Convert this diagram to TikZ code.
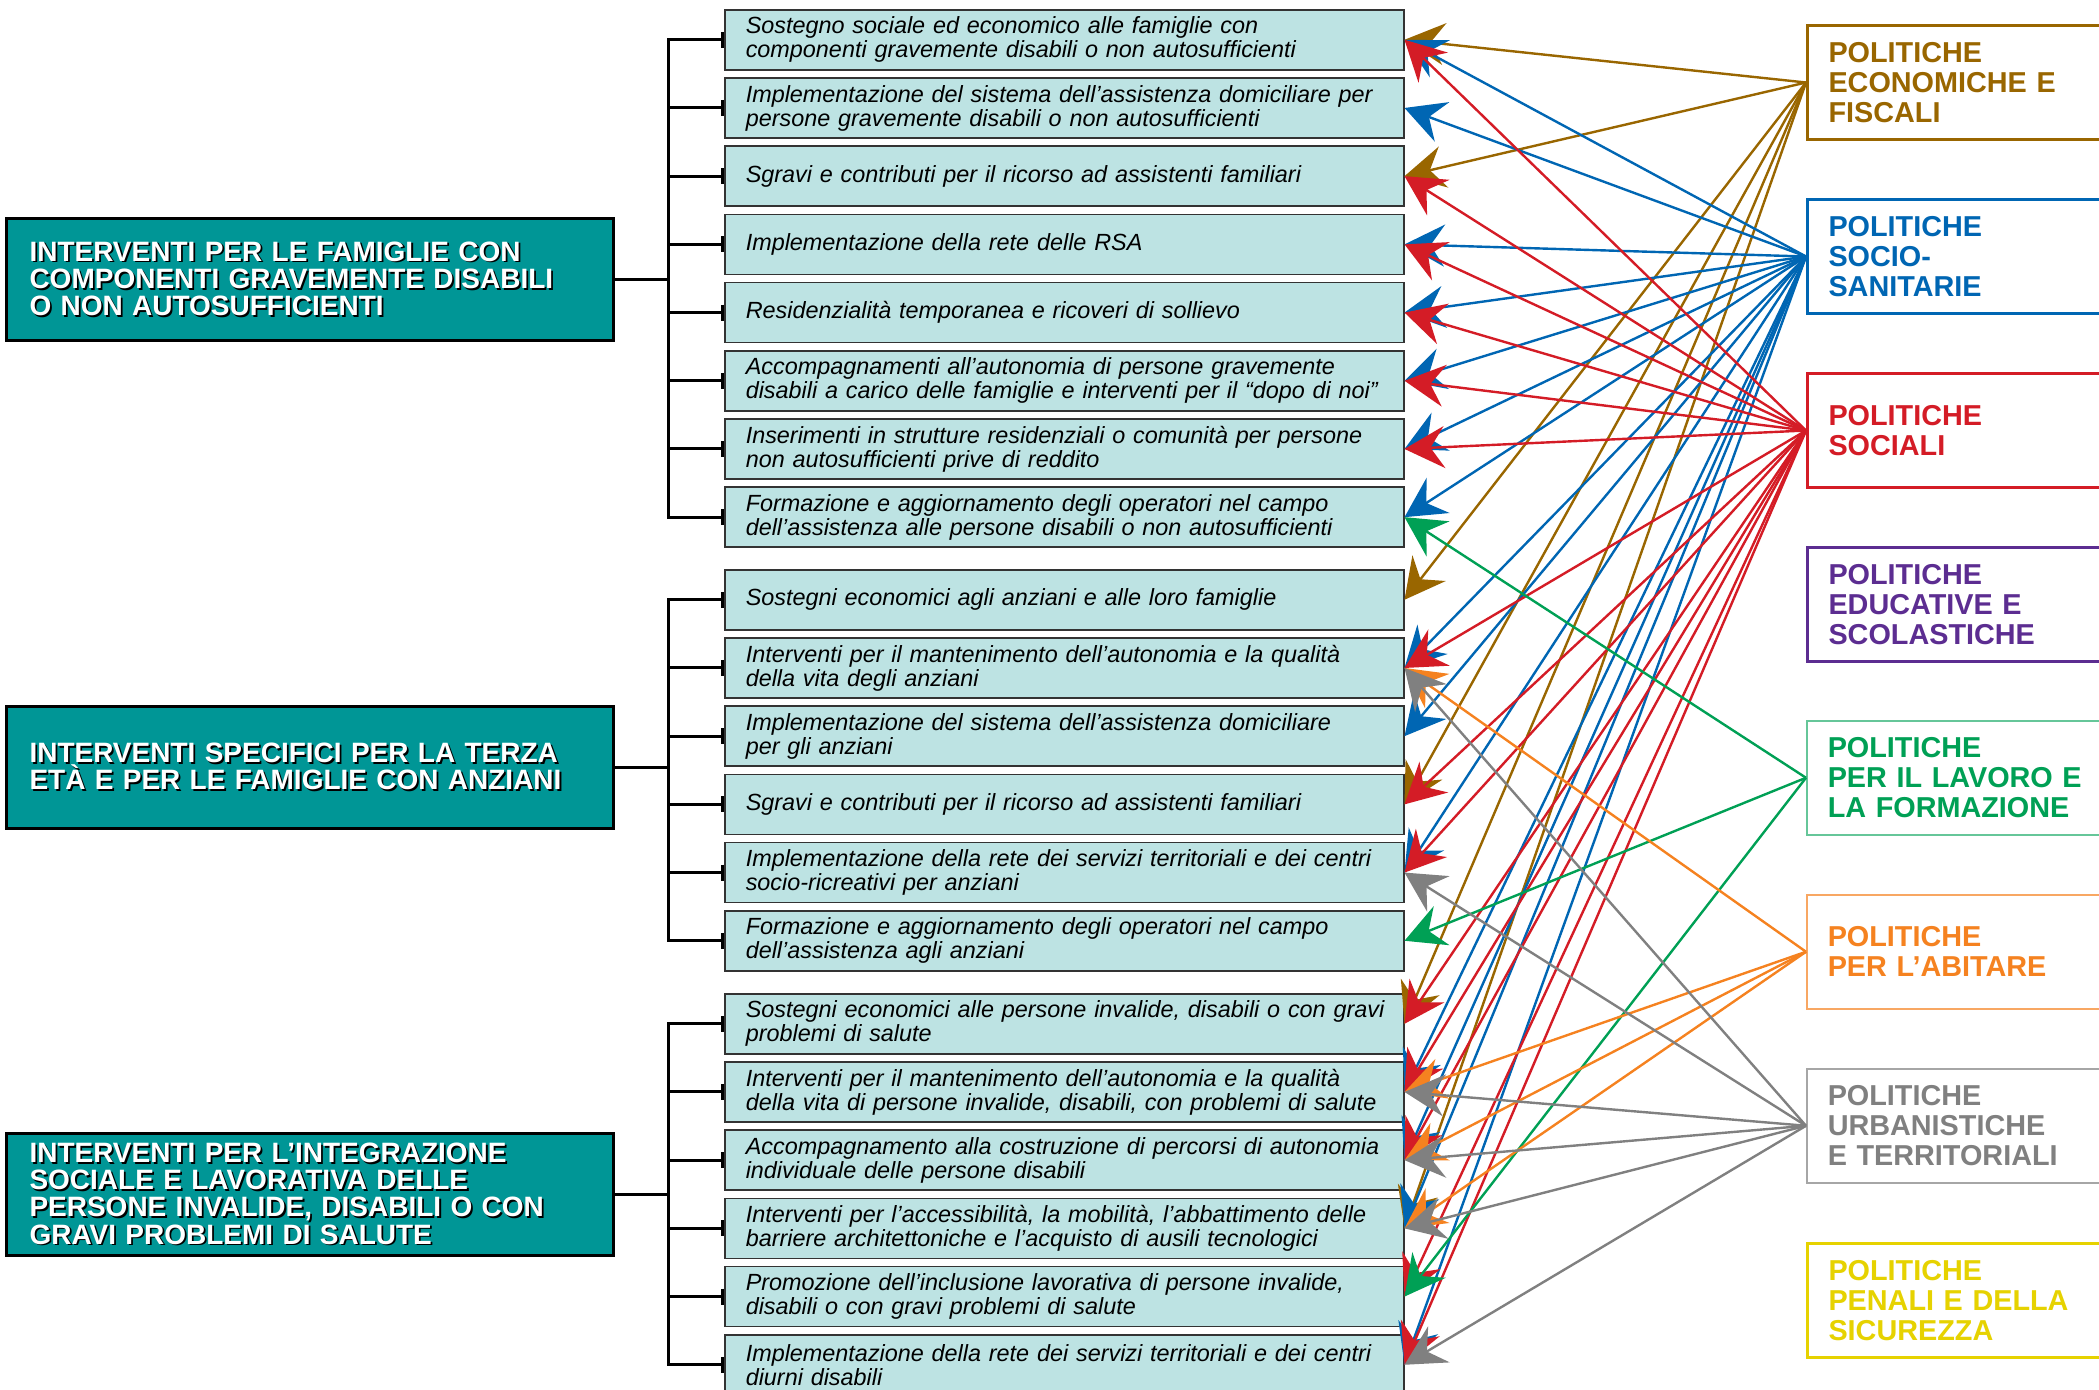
\documentclass[tikz,border=0pt]{standalone}
\usepackage{fontspec}
\setmainfont{Liberation Sans}
\usetikzlibrary{arrows.meta}

% white capitals with a dark drop shadow
\newcommand{\shadowed}[1]{\makebox[0pt][l]{\kern0.9pt\raisebox{-0.9pt}{\textcolor{black}{#1}}}#1}

\begin{document}
\begin{tikzpicture}[x=0.5pt, y=-0.5pt,
  mid/.style={draw=black!80, line width=0.75pt, fill=mid_fill, anchor=north west,
    minimum height=30pt, text width=318.5pt, inner xsep=10.5pt, inner ysep=0pt,
    align=left, font=\fontsize{11.7}{12}\selectfont\itshape},
  group/.style={draw=black, line width=1.5pt, fill=grp_teal, text=white, anchor=north west,
    minimum height=61pt, text width=280.5pt, inner xsep=11.5pt, inner ysep=0pt,
    align=left, font=\fontsize{14}{13.6}\selectfont\bfseries},
  policy/.style={draw=#1, text=#1, line width=1.5pt, fill=white, anchor=north west,
    minimum height=57pt, text width=159pt, inner xsep=10.5pt, inner ysep=0pt,
    align=left, font=\fontsize{14.4}{15}\selectfont\bfseries},
  tree/.style={line width=1.5pt, draw=black},
  branch/.style={tree, -{Bar[width=8pt]}},
  arr/.style={line width=1.2pt, draw=#1, -{Stealth[length=20pt,width=21pt,inset=7pt]}}
]

% ------------------------------------------------ theme colors
\definecolor{mid_fill}{RGB}{189,227,227}   %#BDE3E3
\definecolor{grp_teal}{RGB}{0,150,150}     %#009696
\definecolor{pol_brown}{RGB}{153,102,0}    %#996600
\definecolor{pol_blue}{RGB}{0,102,179}     %#0066B3
\definecolor{pol_red}{RGB}{212,28,38}      %#D41C26
\definecolor{pol_purple}{RGB}{92,45,145}   %#5C2D91
\definecolor{pol_green}{RGB}{0,160,85}     %#00A055
\definecolor{pol_orange}{RGB}{245,130,32}  %#F58220
\definecolor{pol_gray}{RGB}{128,128,128}   %#808080
\definecolor{pol_yellow}{RGB}{230,210,0}   %#E6D200

\useasboundingbox (0,0) rectangle (2099,1389);

% groups of interventions
\node[group] (famiglie) at (5,217) {\shadowed{INTERVENTI PER LE FAMIGLIE CON}\\\shadowed{COMPONENTI GRAVEMENTE DISABILI}\\\shadowed{O NON AUTOSUFFICIENTI}};
\node[group] (anziani)  at (5,705) {\shadowed{INTERVENTI SPECIFICI PER LA TERZA}\\\shadowed{ETÀ E PER LE FAMIGLIE CON ANZIANI}};
\node[group] (disabili) at (5,1132) {\shadowed{INTERVENTI PER L’INTEGRAZIONE}\\\shadowed{SOCIALE E LAVORATIVA DELLE}\\\shadowed{PERSONE INVALIDE, DISABILI O CON}\\\shadowed{GRAVI PROBLEMI DI SALUTE}};

% single interventions
\node[mid] (f1) at (724,9)      {Sostegno sociale ed economico alle famiglie con\\componenti gravemente disabili o non autosufficienti};
\node[mid] (f2) at (724,77.2)   {Implementazione del sistema dell’assistenza domiciliare per\\persone gravemente disabili o non autosufficienti};
\node[mid] (f3) at (724,145.4)  {Sgravi e contributi per il ricorso ad assistenti familiari};
\node[mid] (f4) at (724,213.6)  {Implementazione della rete delle RSA};
\node[mid] (f5) at (724,281.8)  {Residenzialità temporanea e ricoveri di sollievo};
\node[mid] (f6) at (724,350)    {Accompagnamenti all’autonomia di persone gravemente\\disabili a carico delle famiglie e interventi per il “dopo di noi”};
\node[mid] (f7) at (724,418.2)  {Inserimenti in strutture residenziali o comunità per persone\\non autosufficienti prive di reddito};
\node[mid] (f8) at (724,486.4)  {Formazione e aggiornamento degli operatori nel campo\\dell’assistenza alle persone disabili o non autosufficienti};

\node[mid] (a1) at (724,569)    {Sostegni economici agli anziani e alle loro famiglie};
\node[mid] (a2) at (724,637.2)  {Interventi per il mantenimento dell’autonomia e la qualità\\della vita degli anziani};
\node[mid] (a3) at (724,705.4)  {Implementazione del sistema dell’assistenza domiciliare\\per gli anziani};
\node[mid] (a4) at (724,773.6)  {Sgravi e contributi per il ricorso ad assistenti familiari};
\node[mid] (a5) at (724,841.8)  {Implementazione della rete dei servizi territoriali e dei centri\\socio-ricreativi per anziani};
\node[mid] (a6) at (724,910)    {Formazione e aggiornamento degli operatori nel campo\\dell’assistenza agli anziani};

\node[mid] (d1) at (724,993)    {\mbox{Sostegni economici alle persone invalide, disabili o con gravi}\\problemi di salute};
\node[mid] (d2) at (724,1061.2) {Interventi per il mantenimento dell’autonomia e la qualità\\della vita di persone invalide, disabili, con problemi di salute};
\node[mid] (d3) at (724,1129.4) {Accompagnamento alla costruzione di percorsi di autonomia\\individuale delle persone disabili};
\node[mid] (d4) at (724,1197.6) {Interventi per l’accessibilità, la mobilità, l’abbattimento delle\\barriere architettoniche e l’acquisto di ausili tecnologici};
\node[mid] (d5) at (724,1265.8) {Promozione dell’inclusione lavorativa di persone invalide,\\disabili o con gravi problemi di salute};
\node[mid] (d6) at (724,1334)   {Implementazione della rete dei servizi territoriali e dei centri\\diurni disabili};

% policies
\node[policy=pol_brown]  (economiche)   at (1806,24)   {POLITICHE\\ECONOMICHE E\\FISCALI};
\node[policy=pol_blue]   (sanitarie)    at (1806,198)  {POLITICHE\\SOCIO-\\SANITARIE};
\node[policy=pol_red]    (sociali)      at (1806,372)  {POLITICHE\\SOCIALI};
\node[policy=pol_purple] (educative)    at (1806,546)  {POLITICHE\\EDUCATIVE E\\SCOLASTICHE};
\node[policy=pol_green, draw=pol_green!60, line width=0.75pt]   (lavoro)       at (1806,720)  {POLITICHE\\PER IL LAVORO E\\LA FORMAZIONE};
\node[policy=pol_orange, draw=pol_orange!70, line width=0.75pt] (abitare)      at (1806,894)  {POLITICHE\\PER L’ABITARE};
\node[policy=pol_gray, draw=pol_gray!70, line width=0.75pt]     (urbanistiche) at (1806,1068) {POLITICHE\\URBANISTICHE\\E TERRITORIALI};
\node[policy=pol_yellow] (penali)       at (1806,1242) {POLITICHE\\PENALI E DELLA\\SICUREZZA};

% tree
\coordinate (trunk) at (668,0);
\draw[tree] (famiglie.east) -- (famiglie.east -| trunk);
\draw[tree] (anziani.east)  -- (anziani.east -| trunk);
\draw[tree] (disabili.east) -- (disabili.east -| trunk);
\draw[tree, line cap=rect] (trunk |- f1.west) -- (trunk |- f8.west);
\draw[tree, line cap=rect] (trunk |- a1.west) -- (trunk |- a6.west);
\draw[tree, line cap=rect] (trunk |- d1.west) -- (trunk |- d6.west);
\foreach \b in {f1,f2,f3,f4,f5,f6,f7,f8,a1,a2,a3,a4,a5,a6,d1,d2,d3,d4,d5,d6}
  \draw[branch] (trunk |- \b.west) -- (\b.west);

% policy -> intervention
\foreach \t in {f1,f3,a1,a4,d1,d4}
  \draw[arr=pol_brown] (economiche.west) -- (\t.east);
\foreach \t in {f1,f2,f4,f5,f6,f7,f8,a2,a3,a5,d2,d3,d4,d6}
  \draw[arr=pol_blue] (sanitarie.west) -- (\t.east);
\foreach \t in {f1,f3,f4,f5,f6,f7,a2,a4,a5,d1,d2,d3,d5,d6}
  \draw[arr=pol_red] (sociali.west) -- (\t.east);
\foreach \t in {f8,a6,d5}
  \draw[arr=pol_green] (lavoro.west) -- (\t.east);
\foreach \t in {a2,d2,d3,d4}
  \draw[arr=pol_orange] (abitare.west) -- (\t.east);
\foreach \t in {a2,a5,d2,d3,d4,d6}
  \draw[arr=pol_gray] (urbanistiche.west) -- (\t.east);

\end{tikzpicture}
\end{document}
